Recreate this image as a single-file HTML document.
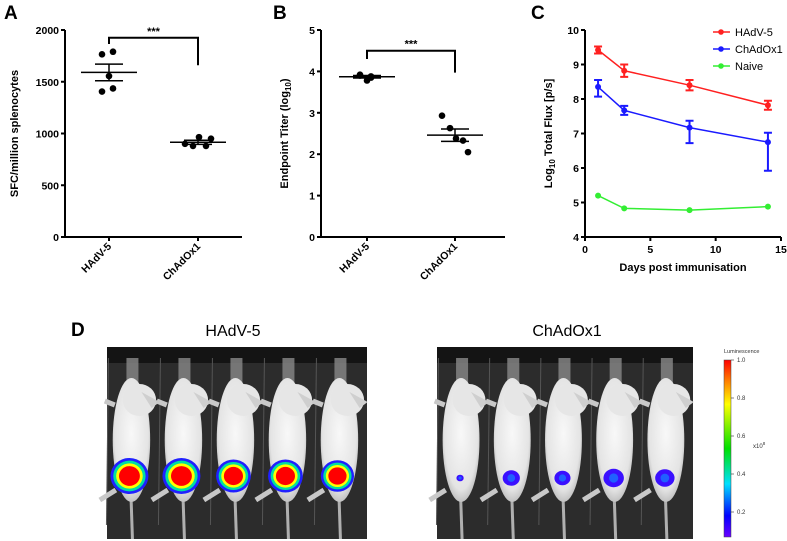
<!DOCTYPE html>
<html><head><meta charset="utf-8"><style>
body{margin:0;background:#fff}
svg{display:block;font-family:"Liberation Sans",Arial,sans-serif}
</style></head><body>
<svg id="fig" width="787" height="541" viewBox="0 0 787 541">
<defs>
<radialGradient id="mouseg" cx="0.5" cy="0.45" r="0.6"><stop offset="0" stop-color="#f8f8f8"/><stop offset="0.75" stop-color="#e4e4e4"/><stop offset="1" stop-color="#b0b0b0"/></radialGradient>
<linearGradient id="cbar" x1="0" y1="1" x2="0" y2="0">
<stop offset="0" stop-color="#6a00ff"/><stop offset="0.12" stop-color="#0000ff"/><stop offset="0.3" stop-color="#00e0ff"/><stop offset="0.5" stop-color="#00e000"/><stop offset="0.75" stop-color="#ffff00"/><stop offset="0.88" stop-color="#ff8000"/><stop offset="1" stop-color="#ff0000"/></linearGradient>
</defs>
<g id="A"></g>
<g id="B"></g>
<g id="C"></g>
<g id="D"></g>
</svg>
<script>
// Panel A data
const catsA = ["HAdV-5","ChAdOx1"];
const ptsA_h = [1765,1790,1555,1435,1405];
const ptsA_c = [900,880,965,880,950];
const meanA = [1590,915];
const semA = [80,20];
const ticksA = [0,500,1000,1500,2000];
// Panel B data
const catsB = ["HAdV-5","ChAdOx1"];
const ptsB_h = [3.92,3.88,3.78,3.85,3.90];
const ptsB_c = [2.93,2.63,2.38,2.33,2.05];
const meanB = [3.87,2.46];
const semB = [0.03,0.15];
const ticksB = [0,1,2,3,4,5];
// Panel C data
const daysC = [1,3,8,14];
const hadv = [9.42,8.82,8.40,7.82];
const hadvUp = [0.10,0.18,0.15,0.13];
const hadvLo = [0.10,0.18,0.15,0.13];
const chad = [8.35,7.67,7.17,6.75];
const chadUp = [0.20,0.13,0.20,0.27];
const chadLo = [0.28,0.13,0.45,0.83];
const naive = [5.20,4.83,4.78,4.88];
const ticksCy = [4,5,6,7,8,9,10];
const ticksCx = [0,5,10,15];
// Panel D
const cbTicks = [1.0,0.8,0.6,0.4,0.2];
const hadvSignal = [1,1,0.9,0.9,0.85];
const chadSignal = [0.15,0.6,0.55,0.75,0.7];

const NS="http://www.w3.org/2000/svg";
function mk(parent,tag,attrs,text){const e=document.createElementNS(NS,tag);for(const k in attrs)e.setAttribute(k,attrs[k]);if(text!==undefined)e.textContent=text;parent.appendChild(e);return e;}

function scatterPanel(g,x0,x1,yTop,yBot,vmax,ticks,cats,catX,pts,means,sems,br,ylab,ysub,ylabX,letter,letterX){
  const ys=v=>yBot-(v/vmax)*(yBot-yTop);
  let t=mk(g,'text',{x:letterX,y:19,'font-size':19,'font-weight':'bold'},letter);
  
  
  let ax=mk(g,'path',{d:`M${x0},${yTop}V${yBot}H${x1}`,stroke:'#000','stroke-width':2,fill:'none'});
  
  
  ticks.forEach(v=>{
    mk(g,'line',{x1:x0-4,x2:x0,y1:ys(v),y2:ys(v),stroke:'#000','stroke-width':2});
    let tl=mk(g,'text',{x:x0-6,y:ys(v)+4,'font-size':10.5,'font-weight':'bold','text-anchor':'end'},v);
    
    
  });
  cats.forEach((c,i)=>{
    const cx=catX[i];
    mk(g,'line',{x1:cx,x2:cx,y1:yBot,y2:yBot+4,stroke:'#000','stroke-width':2});
    let tl=mk(g,'text',{x:0,y:0,'font-size':10.5,'font-weight':'bold','text-anchor':'end',transform:`translate(${cx+3},${yBot+10}) rotate(-45)`},c);
    
    
    pts[i].forEach((v,j)=>{
      const dx=(i==0?[-7,4,0,4,-7]:[-13,-5,1,8,13])[j];
      let p=mk(g,'circle',{cx:cx+dx,cy:ys(v),r:3.3,fill:'#000'});
      
      
    });
    let m=mk(g,'line',{x1:cx-28,x2:cx+28,y1:ys(means[i]),y2:ys(means[i]),stroke:'#000','stroke-width':1.5});
    
    
    mk(g,'path',{d:`M${cx-14},${ys(means[i]+sems[i])}H${cx+14}M${cx-14},${ys(means[i]-sems[i])}H${cx+14}M${cx},${ys(means[i]+sems[i])}V${ys(means[i]-sems[i])}`,stroke:'#000','stroke-width':1.5,fill:'none'});
  });
  let b=mk(g,'path',{d:`M${catX[0]},${ys(br[1])}V${ys(br[0])}H${catX[1]}V${ys(br[2])}`,stroke:'#000','stroke-width':2,fill:'none'});
  
  
  let s=mk(g,'text',{x:(catX[0]+catX[1])/2,y:ys(br[0])-3,'font-size':11,'font-weight':'bold','text-anchor':'middle'},'***');
  
  
  let yl=mk(g,'text',{x:0,y:0,'font-size':11,'font-weight':'bold','text-anchor':'middle',transform:`translate(${ylabX},${(yTop+yBot)/2}) rotate(-90)`},ylab);
  
  
  if(ysub){mk(yl,'tspan',{'font-size':8,dy:3},ysub[0]);mk(yl,'tspan',{dy:-3},ysub[1]);}
}
scatterPanel(document.getElementById('A'),65,242,30,237,2000,ticksA,catsA,[109,198],[ptsA_h,ptsA_c],meanA,semA,[1925,1865,1660],'SFC/million splenocytes',null,18,'A',4);
scatterPanel(document.getElementById('B'),321,505,30,237,5,ticksB,catsB,[367,455],[ptsB_h,ptsB_c],meanB,semB,[4.5,4.3,3.97],'Endpoint Titer (log',['10',')'],288,'B',273);

// Panel C
(function(){
  const g=document.getElementById('C');
  const x0=585,x1=781,yTop=30,yBot=237;
  const xs=d=>x0+d/15*(x1-x0), ys=v=>yBot-(v-4)/6*(yBot-yTop);
  let t=mk(g,'text',{x:531,y:19,'font-size':19,'font-weight':'bold'},'C');
  
  
  mk(g,'path',{d:`M${x0},${yTop}V${yBot}H${x1}`,stroke:'#000','stroke-width':2,fill:'none'});
  ticksCy.forEach(v=>{mk(g,'line',{x1:x0-4,x2:x0,y1:ys(v),y2:ys(v),stroke:'#000','stroke-width':2});
    let tl=mk(g,'text',{x:x0-6,y:ys(v)+4,'font-size':10.5,'font-weight':'bold','text-anchor':'end'},v);
    
    });
  ticksCx.forEach(v=>{mk(g,'line',{x1:xs(v),x2:xs(v),y1:yBot,y2:yBot+4,stroke:'#000','stroke-width':2});
    let tl=mk(g,'text',{x:xs(v),y:yBot+16,'font-size':10.5,'font-weight':'bold','text-anchor':'middle'},v);
    
    });
  let xl=mk(g,'text',{x:683,y:271,'font-size':11,'font-weight':'bold','text-anchor':'middle'},'Days post immunisation');
  
  
  let yl=mk(g,'text',{x:0,y:0,'font-size':11,'font-weight':'bold','text-anchor':'middle',transform:`translate(552,${(yTop+yBot)/2}) rotate(-90)`},'Log');
  
  
  mk(yl,'tspan',{'font-size':8,dy:3},'10');mk(yl,'tspan',{dy:-3},' Total Flux [p/s]');
  const series=[[hadv,hadvUp,hadvLo,'#ff2020','hadv-5'],[chad,chadUp,chadLo,'#1a1aff','chadox1'],[naive,null,null,'#33ee33','naive']];
  series.forEach(([vals,up,lo,col,nm])=>{
    let l=mk(g,'polyline',{points:vals.map((v,i)=>xs(daysC[i])+','+ys(v)).join(' '),stroke:col,'stroke-width':1.5,fill:'none'});
    
    
    vals.forEach((v,i)=>{const x=xs(daysC[i]);
      if(up){mk(g,'path',{d:`M${x-4},${ys(v+up[i])}H${x+4}M${x-4},${ys(v-lo[i])}H${x+4}M${x},${ys(v+up[i])}V${ys(v-lo[i])}`,stroke:col,'stroke-width':2,fill:'none'});}
      let p=mk(g,'circle',{cx:x,cy:ys(v),r:3,fill:col});
      
      });
  });
  [['HAdV-5','#ff2020'],['ChAdOx1','#1a1aff'],['Naive','#33ee33']].forEach(([n,c],i)=>{
    const y=32+i*17;
    mk(g,'line',{x1:713,x2:730,y1:y,y2:y,stroke:c,'stroke-width':1.5});
    mk(g,'circle',{cx:721,cy:y,r:2.8,fill:c});
    let tl=mk(g,'text',{x:735,y:y+4,'font-size':11},n);
    
    
  });
})();

// Panel D
(function(){
  const g=document.getElementById('D');
  let t=mk(g,'text',{x:71,y:336,'font-size':19,'font-weight':'bold'},'D');
  
  
  function image(x0,x1,title,tx,sig,blobColor){
    let tt=mk(g,'text',{x:tx,y:336,'font-size':16,'text-anchor':'middle'},title);
    
    
    const img=mk(g,'g',{});
    
    
    mk(img,'rect',{x:x0,y:347,width:x1-x0,height:192,fill:'#2c2c2c'});
    mk(img,'rect',{x:x0,y:347,width:x1-x0,height:16,fill:'#141414'});
    const w=(x1-x0)/5;
    sig.forEach((s,i)=>{
      const cx=x0+w*i+w*0.47;
      mk(img,'line',{x1:cx-w/2+3,y1:358,x2:cx-w/2+1,y2:525,stroke:'#555','stroke-width':1});
      mk(img,'rect',{x:cx-5,y:358,width:12,height:28,fill:'#8a8a8a',opacity:0.8});
      mk(img,'line',{x1:cx-1,y1:480,x2:cx+1,y2:539,stroke:'#b0b0b0','stroke-width':3});
      mk(img,'path',{d:`M${cx-w*0.3},${490} l-16,10 M${cx-w*0.32},${405} l-10,-4`,stroke:'#c8c8c8','stroke-width':5,fill:'none'});
      mk(img,'ellipse',{cx:cx,cy:440,rx:w*0.36,ry:62,fill:'url(#mouseg)'});
      mk(img,'ellipse',{cx:cx+8,cy:400,rx:w*0.32,ry:16,fill:'#e6e6e6'});
      mk(img,'path',{d:`M${cx+10},${392} l${w*0.35},10 l-8,6 z`,fill:'#cfcfcf'});
      if(blobColor==='full'){
        const r=s*16+3;
        [['#2020ff',1],['#00e0a0',0.85],['#ffff00',0.7],['#ff0000',0.55]].forEach(([c,f])=>mk(img,'ellipse',{cx:cx-2,cy:476,rx:r*f,ry:r*f*0.95,fill:c}));
      } else {
        const r=s*11+2;
        mk(img,'ellipse',{cx:cx-1,cy:478,rx:r,ry:r*0.9,fill:'#3a10ff'});
        mk(img,'ellipse',{cx:cx-1,cy:478,rx:r*0.45,ry:r*0.45,fill:'#2060ff'});
      }
    });
  }
  image(107,367,'HAdV-5',233,hadvSignal,'full');
  image(437,693,'ChAdOx1',567,chadSignal,'blue');
  const cb=mk(g,'rect',{x:724,y:360,width:7,height:177,fill:'url(#cbar)',stroke:'#444','stroke-width':0.5});
  
  
  let lt=mk(g,'text',{x:724,y:353,'font-size':5.5,fill:'#333'},'Luminescence');
  
  
  const ys=v=>360+(1.0-v)/0.8*(512-360);
  cbTicks.forEach(v=>{mk(g,'line',{x1:731,x2:734,y1:ys(v),y2:ys(v),stroke:'#333','stroke-width':0.6});
    let tl=mk(g,'text',{x:737,y:ys(v)+2,'font-size':6,fill:'#333'},v.toFixed(1));
    
    });
  let e=mk(g,'text',{x:753,y:448,'font-size':6,fill:'#333'},'x10');
  
  
  mk(e,'tspan',{dy:-3,'font-size':4.5},'8');
})();
</script>
</body></html>
